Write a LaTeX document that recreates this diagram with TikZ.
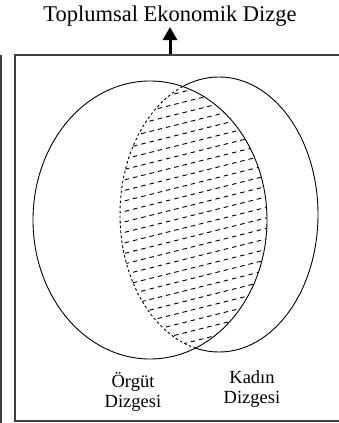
\documentclass[tikz,border=0pt]{standalone}
\usepackage{fontspec}
\setmainfont{Liberation Serif}
\usetikzlibrary{arrows.meta,positioning}

\tikzset{
  frameline/.style={draw=black!75,line width=1.6pt},
  setline/.style={draw=black,line width=0.9pt},
  meetline/.style={draw=black,line width=0.9pt,dash pattern=on 2.5pt off 2.5pt},
  hatchline/.style={draw=black,line width=0.9pt,dash pattern=on 4.5pt off 4pt},
  setlabel/.style={font=\fontsize{18.5}{20}\selectfont,align=center,inner sep=0pt}
}

\begin{document}
\begin{tikzpicture}[x=1pt,y=-1pt,>=Latex]
\useasboundingbox (0,0) rectangle (339,423);
% title and arrow
\node[font=\fontsize{22.5}{24}\selectfont,anchor=base,inner sep=1pt] (title) at (170,21) {Toplumsal Ekonomik Dizge};
\coordinate (top) at (170,55);
\draw[line width=3pt,-{Triangle[width=14pt,length=13pt]}] (top) -- (title.south);
% frame
\draw[frameline] (339,55) -- (15,55) -- (15,421) -- (339,421);
\draw[frameline] (1,55) -- (1,423);
% the two sets
\coordinate (orgut) at (150,220);
\coordinate (kadin) at (219,214.5);
\draw[setline] (kadin) ellipse [x radius=99pt,y radius=137.5pt];
\fill[white] (orgut) ellipse [x radius=117pt,y radius=139pt];
\begin{scope}
  \clip (orgut) ellipse [x radius=117pt,y radius=139pt];
  \draw[meetline] (kadin) ellipse [x radius=99pt,y radius=137.5pt];
  \clip (kadin) ellipse [x radius=99pt,y radius=137.5pt];
  \foreach \k in {0,...,40}
    \draw[hatchline] (100,{60+10.5*\k}) -- (300,{60+10.5*\k-50});
\end{scope}
\draw[setline] (orgut) ellipse [x radius=117pt,y radius=139pt];
% labels
\node[setlabel] (orgutlabel) at (133,392) {Örgüt\\Dizgesi};
\node[setlabel] (kadinlabel) at (252,389) {Kadın\\Dizgesi};
\end{tikzpicture}
\end{document}
